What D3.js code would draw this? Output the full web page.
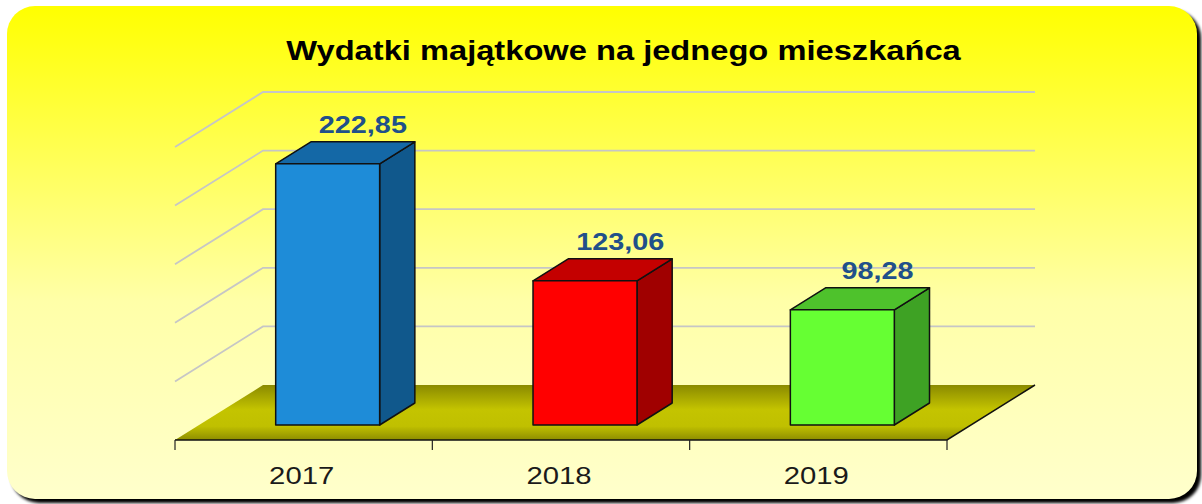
<!DOCTYPE html>
<html><head><meta charset="utf-8">
<script src="https://cdn.jsdelivr.net/npm/d3@7"></script>
<style>html,body{margin:0;padding:0;background:#fff;}svg{display:block;}</style>
</head><body>
<svg id="c" width="1202" height="504"></svg>
<script>
const title = "Wydatki majątkowe na jednego mieszkańca";
const years = ["2017", "2018", "2019"];
const values = [222.85, 123.06, 98.28];
const valueLabels = ["222,85", "123,06", "98,28"];
const gridValues = [50, 100, 150, 200, 250];
const frontColors = ["#1E8CD8", "#FF0000", "#66FF33"];
const sideColors = ["#10588C", "#A00000", "#3EA224"];
const topColors = ["#1468A6", "#C40000", "#4EC22C"];

const svg = d3.select("#c");
const defs = svg.append("defs");
const bg = defs.append("linearGradient").attr("id","bg").attr("x1",0).attr("y1",0).attr("x2",0).attr("y2",1);
bg.append("stop").attr("offset",0).attr("stop-color","#FFFF00");
bg.append("stop").attr("offset",0.6).attr("stop-color","#FFFFA8");
bg.append("stop").attr("offset",1).attr("stop-color","#FFFFCC");
const fl = defs.append("linearGradient").attr("id","floor").attr("x1",0).attr("y1",0).attr("x2",0).attr("y2",1);
fl.append("stop").attr("offset",0).attr("stop-color","#8A8A00");
fl.append("stop").attr("offset",0.45).attr("stop-color","#C4C400");
fl.append("stop").attr("offset",0.75).attr("stop-color","#C0C000");
fl.append("stop").attr("offset",1).attr("stop-color","#8E8E00");
const blur = defs.append("filter").attr("id","sh").attr("x","-5%").attr("y","-5%").attr("width","110%").attr("height","110%");
blur.append("feGaussianBlur").attr("stdDeviation",1.5);

// background panel
svg.append("rect").attr("x",11).attr("y",10).attr("width",1190).attr("height",493).attr("rx",28)
  .attr("fill","#000").attr("filter","url(#sh)");
svg.append("rect").attr("x",7).attr("y",6).attr("width",1190).attr("height",493).attr("rx",28)
  .attr("fill","url(#bg)");

// geometry
const x0 = 175, x1 = 947, yFront = 440;
const DX = 88, DY = 55; // floor depth projection
const x = d3.scaleBand().domain(years).range([x0, x1]).padding(0);
const h = d3.scaleLinear().domain([0, 250]).range([0, 293]);
const P = (px, v, z) => [px + DX * z, yFront - h(v) - DY * z];

// gridlines: back wall + left wall
const g = svg.append("g");
gridValues.forEach(v => {
  const a = P(x0, v, 0), b = P(x0, v, 1), c = P(x1, v, 1);
  g.append("path").attr("d", d3.line()([a, b, c]))
    .attr("fill","none").attr("stroke","#C6C6C6").attr("stroke-width",1.8);
});

// floor
const floorPts = [P(x0,0,0), P(x1,0,0), P(x1,0,1), P(x0,0,1)];
svg.append("path").attr("d", d3.line()(floorPts) + "Z").attr("fill","url(#floor)");
svg.append("path").attr("d", d3.line()([P(x0,0,0), P(x1,0,0), P(x1,0,1)]))
  .attr("fill","none").attr("stroke","#111").attr("stroke-width",1.5);

// ticks
const tickXs = years.map(d => x(d)).concat([x1]);
tickXs.forEach(tx => {
  svg.append("line").attr("x1",tx).attr("x2",tx).attr("y1",yFront).attr("y2",yFront+10)
    .attr("stroke","#222").attr("stroke-width",1.2);
});

// bars
const z0 = 15/55, zd = 22/55;
const bw = x.bandwidth() * 0.404;
years.forEach((yr, i) => {
  const left = x(yr) + (x.bandwidth() - bw) / 2;
  const right = left + bw;
  const v = values[i];
  const fBL = P(left,0,z0), fBR = P(right,0,z0), fTR = P(right,v,z0), fTL = P(left,v,z0);
  const bBR = P(right,0,z0+zd), bTR = P(right,v,z0+zd), bTL = P(left,v,z0+zd);
  const bar = svg.append("g").attr("stroke","#111").attr("stroke-width",1.5).attr("stroke-linejoin","round");
  bar.append("path").attr("d", d3.line()([fBR, bBR, bTR, fTR]) + "Z").attr("fill", sideColors[i]);
  bar.append("path").attr("d", d3.line()([fTL, fTR, bTR, bTL]) + "Z").attr("fill", topColors[i]);
  bar.append("path").attr("d", d3.line()([fBL, fBR, fTR, fTL]) + "Z").attr("fill", frontColors[i]);
  const lx = (left + right) / 2 + DX * (z0 + zd);
  const ly = bTL[1] - 9;
  svg.append("text").attr("transform", `translate(${lx},${ly}) scale(1.2,1)`)
    .attr("text-anchor","middle").attr("font-family","Liberation Sans, Arial, sans-serif")
    .attr("font-weight","bold").attr("font-size",24).attr("fill","#21508A").text(valueLabels[i]);
  svg.append("text").attr("transform", `translate(${x(yr) + x.bandwidth()/2 - 2},484) scale(1.22,1)`)
    .attr("text-anchor","middle").attr("font-family","Liberation Sans, Arial, sans-serif")
    .attr("font-size",24).attr("fill","#1a1a1a").text(yr);
});

// title
svg.append("text").attr("transform","translate(623.5,60) scale(1.21,1)")
  .attr("text-anchor","middle").attr("font-family","Liberation Sans, Arial, sans-serif")
  .attr("font-weight","bold").attr("font-size",27).attr("fill","#000").text(title);
</script>
</body></html>
